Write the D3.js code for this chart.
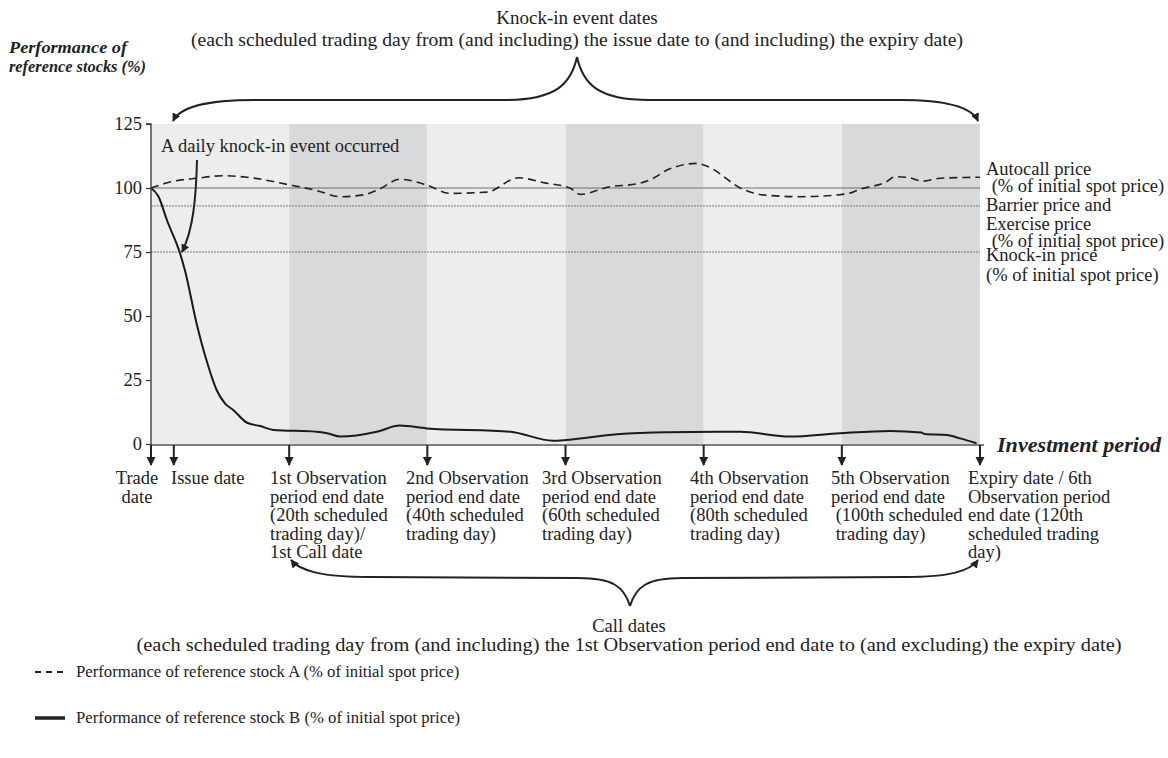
<!DOCTYPE html>
<html>
<head>
<meta charset="utf-8">
<script src="https://cdn.jsdelivr.net/npm/d3@7"></script>
<style>
  html, body { margin: 0; padding: 0; background: #fff; }
  svg text { font-family: "Liberation Serif", "Times New Roman", serif; fill: #222; }
</style>
</head>
<body>
<svg id="chart" width="1168" height="758"></svg>
<script>
// ---------------- data ----------------
const yTicks = [0, 25, 50, 75, 100, 125];
const periodEdges = [0, 20, 40, 60, 80, 100, 120];
const stockADays   = [0, 3, 6.6, 10.4, 13.9, 20.1, 24, 27.4, 30.7, 33, 36, 39.9, 43.3, 48.6, 53.2, 57, 60.7, 62.1, 66.4, 70.3, 72.7, 74.7, 79, 80.4, 85.7, 88.6, 94, 100.7, 102.6, 106.5, 107.7, 109.4, 111.8, 114.2, 120];
const stockAValues = [100, 102.5, 103.8, 104.8, 104.2, 101.2, 99, 96.6, 97.3, 99.5, 103.4, 101.2, 97.9, 98.4, 104, 102, 99.9, 97.5, 100.5, 101.6, 103.8, 107, 109.6, 108.6, 99.5, 97.3, 96.6, 97.7, 99.5, 102.5, 104.4, 104.2, 102.7, 103.8, 104.2];
const stockBDays   = [0, 1.1, 2.3, 4.2, 4.9, 6.6, 8, 9.5, 10.7, 11.9, 13.9, 15.8, 17.7, 24, 25.5, 27.4, 32.7, 36, 39.9, 52, 58.2, 60.2, 67.4, 74.7, 85.3, 92.5, 99.7, 107, 111.5, 112, 115.2, 117.1, 119.5];
const stockBValues = [100, 96.6, 87.5, 74.5, 68, 47.1, 33, 21.1, 15.9, 13.3, 8.3, 7, 5.5, 4.8, 4.2, 2.9, 4.8, 7.2, 6.1, 4.8, 1.3, 1.6, 3.8, 4.6, 4.8, 2.9, 4.2, 5.1, 4.5, 3.9, 3.5, 2.2, 0.3];
const autocallLevel = 100;
const barrierLevel = 93;
const knockInLevel = 75;
const dateDays = [0, 3.3, 20, 40, 60, 80, 100, 120];
const dateLabels = [
  ["Trade", "date"],
  ["Issue date"],
  ["1st Observation", "period end date", "(20th scheduled", "trading day)/", "1st Call date"],
  ["2nd Observation", "period end date", "(40th scheduled", "trading day)"],
  ["3rd Observation", "period end date", "(60th scheduled", "trading day)"],
  ["4th Observation", "period end date", "(80th scheduled", "trading day)"],
  ["5th Observation", "period end date", " (100th scheduled", " trading day)"],
  ["Expiry date / 6th", "Observation period", "end date (120th", "scheduled trading", "day)"]
];
const levelLabels = [
  "Autocall price", " (% of initial spot price)", "Barrier price and", "Exercise price",
  " (% of initial spot price)", "Knock-in price", "(% of initial spot price)"
];
const yTitle = ["Performance of", "reference stocks (%)"];
const topTitle = ["Knock-in event dates", "(each scheduled trading day from (and including) the issue date to (and including) the expiry date)"];
const bottomTitle = ["Call dates", "(each scheduled trading day from (and including) the 1st Observation period end date to (and excluding) the expiry date)"];
const legendLabels = ["Performance of reference stock A (% of initial spot price)", "Performance of reference stock B (% of initial spot price)"];
const xTitle = "Investment period";
const annotationText = "A daily knock-in event occurred";

// ---------------- layout ----------------
const FS = 18.5;
const plot = { left: 151, right: 980, top: 124, bottom: 444 };
const labelStartX = [null, 171, 270, 406, 542, 690, 831, 968];
const levelLabelY = [175, 192, 211, 230, 247, 261, 281];
const levelLabelX = [986, 987, 986, 986, 987, 986, 986];

const svg = d3.select("#chart");
const x = d3.scaleLinear().domain([0, 120]).range([plot.left, plot.right]);
const y = d3.scaleLinear().domain([0, 125]).range([plot.bottom, plot.top]);

// defs: arrowheads
const defs = svg.append("defs");
function marker(id, size) {
  defs.append("marker").attr("id", id).attr("viewBox", "0 0 10 10")
    .attr("refX", 9).attr("refY", 5).attr("markerWidth", size).attr("markerHeight", size)
    .attr("markerUnits", "strokeWidth").attr("orient", "auto")
    .append("path").attr("d", "M0,0 L10,5 L0,10 Z").attr("fill", "#222");
}
marker("ah", 4.2);
marker("ahBig", 4.6);

// bands
const bands = d3.pairs(periodEdges);
svg.append("g").selectAll("rect").data(bands).join("rect")
  .attr("x", d => x(d[0])).attr("y", plot.top)
  .attr("width", d => x(d[1]) - x(d[0])).attr("height", plot.bottom - plot.top)
  .attr("fill", (d, i) => i % 2 === 0 ? "#ededed" : "#d8d9db");

// reference lines
svg.append("line").attr("x1", plot.left).attr("x2", plot.right)
  .attr("y1", y(autocallLevel)).attr("y2", y(autocallLevel))
  .attr("stroke", "#6e6e6e").attr("stroke-width", 1);
[barrierLevel, knockInLevel].forEach(v => {
  svg.append("line").attr("x1", plot.left).attr("x2", plot.right)
    .attr("y1", y(v)).attr("y2", y(v))
    .attr("stroke", "#777").attr("stroke-width", 1).attr("stroke-dasharray", "2,1");
});

// series
const lineGen = d3.line().x(d => x(d[0])).y(d => y(d[1])).curve(d3.curveMonotoneX);
svg.append("path").datum(d3.zip(stockADays, stockAValues))
  .attr("d", lineGen).attr("fill", "none").attr("stroke", "#222")
  .attr("stroke-width", 1.6).attr("stroke-dasharray", "8,5");
svg.append("path").datum(d3.zip(stockBDays, stockBValues))
  .attr("d", lineGen).attr("fill", "none").attr("stroke", "#1a1a1a")
  .attr("stroke-width", 2);

// y axis
const yAxis = d3.axisLeft(y).tickValues(yTicks).tickSize(5).tickPadding(4).tickFormat(d3.format("d"));
const gy = svg.append("g").attr("transform", `translate(${plot.left},0)`).call(yAxis);
gy.select(".domain").attr("stroke", "#333").attr("stroke-width", 1.3)
  .attr("d", `M-5,${plot.top}H0V${plot.bottom + 1}`);
gy.selectAll(".tick line").attr("stroke", "#333").attr("stroke-width", 1.2);
gy.selectAll(".tick text").style("font-family", "Liberation Serif").style("font-size", FS + "px").attr("fill", "#222");

// x axis line
svg.append("line").attr("x1", plot.left).attr("x2", 984)
  .attr("y1", plot.bottom + 1).attr("y2", plot.bottom + 1)
  .attr("stroke", "#555").attr("stroke-width", 1.5);
svg.append("text").attr("x", 997).attr("y", 452)
  .style("font-size", "20.5px").style("font-weight", "bold").style("font-style", "italic")
  .attr("textLength", 164).attr("lengthAdjust", "spacingAndGlyphs")
  .text(xTitle);

// date arrows
svg.append("g").selectAll("line").data(dateDays).join("line")
  .attr("x1", d => x(d)).attr("x2", d => x(d))
  .attr("y1", plot.bottom + 1).attr("y2", plot.bottom + 21)
  .attr("stroke", "#222").attr("stroke-width", 2).attr("marker-end", "url(#ahBig)");

// date labels
const lineH = 18.5, firstBase = 484;
dateLabels.forEach((lines, i) => {
  const t = svg.append("text").style("font-size", FS + "px");
  if (i === 0) {
    t.attr("text-anchor", "middle");
    lines.forEach((s, j) => t.append("tspan").attr("x", 137).attr("y", firstBase + j * lineH).text(s));
  } else {
    lines.forEach((s, j) => t.append("tspan").attr("x", labelStartX[i]).attr("y", firstBase + j * lineH)
      .style("white-space", "pre").text(s));
  }
});

// level labels
levelLabels.forEach((s, i) => {
  svg.append("text").attr("x", levelLabelX[i]).attr("y", levelLabelY[i])
    .style("font-size", FS + "px").style("white-space", "pre").text(s);
});

// y title
const yTitleLen = [118, 137];
yTitle.forEach((s, i) => {
  svg.append("text").attr("x", 9).attr("y", 53 + i * 19)
    .style("font-size", "17.5px").style("font-weight", "bold").style("font-style", "italic")
    .attr("textLength", yTitleLen[i]).attr("lengthAdjust", "spacingAndGlyphs").text(s);
});

// top title + brace
const topLen = [null, 772];
topTitle.forEach((s, i) => {
  const t = svg.append("text").attr("x", 577).attr("y", 24 + i * 22).attr("text-anchor", "middle")
    .style("font-size", "19px").text(s);
  if (topLen[i]) t.attr("textLength", topLen[i]).attr("lengthAdjust", "spacingAndGlyphs");
});
const braceStyle = p => p.attr("fill", "none").attr("stroke", "#222").attr("stroke-width", 2).attr("marker-end", "url(#ah)");
braceStyle(svg.append("path").attr("d", "M577,57 C571,84 556,100 505,100 L255,100 C205,100 180,107 173,121"));
braceStyle(svg.append("path").attr("d", "M577,57 C583,84 598,100 649,100 L900,100 C948,100 972,107 978,121"));

// bottom brace + title
braceStyle(svg.append("path").attr("d", "M630,606 C624,586 612,578 578,578 L370,577 C322,577 300,571 291,560").attr("stroke-width", 2.4));
braceStyle(svg.append("path").attr("d", "M630,606 C636,586 648,578 682,578 L905,577 C950,577 970,571 978,560").attr("stroke-width", 2.4));
const bottomLen = [null, 985];
bottomTitle.forEach((s, i) => {
  const t = svg.append("text").attr("x", 629).attr("y", 632 + i * 19).attr("text-anchor", "middle")
    .style("font-size", i === 0 ? FS + "px" : "19.5px").text(s);
  if (bottomLen[i]) t.attr("textLength", bottomLen[i]).attr("lengthAdjust", "spacingAndGlyphs");
});

// annotation
svg.append("text").attr("x", 161).attr("y", 152).style("font-size", FS + "px").text(annotationText);
svg.append("path").attr("d", "M197,160 C196,200 193,230 182,252")
  .attr("fill", "none").attr("stroke", "#222").attr("stroke-width", 2).attr("marker-end", "url(#ah)");

// legend
const legY = [672, 718];
svg.append("line").attr("x1", 35).attr("x2", 65).attr("y1", legY[0]).attr("y2", legY[0])
  .attr("stroke", "#222").attr("stroke-width", 2).attr("stroke-dasharray", "6,5");
svg.append("line").attr("x1", 35).attr("x2", 65).attr("y1", legY[1]).attr("y2", legY[1])
  .attr("stroke", "#222").attr("stroke-width", 3.5);
legendLabels.forEach((s, i) => {
  svg.append("text").attr("x", 76).attr("y", legY[i] + 5).style("font-size", "16.7px").text(s);
});
</script>
</body>
</html>
